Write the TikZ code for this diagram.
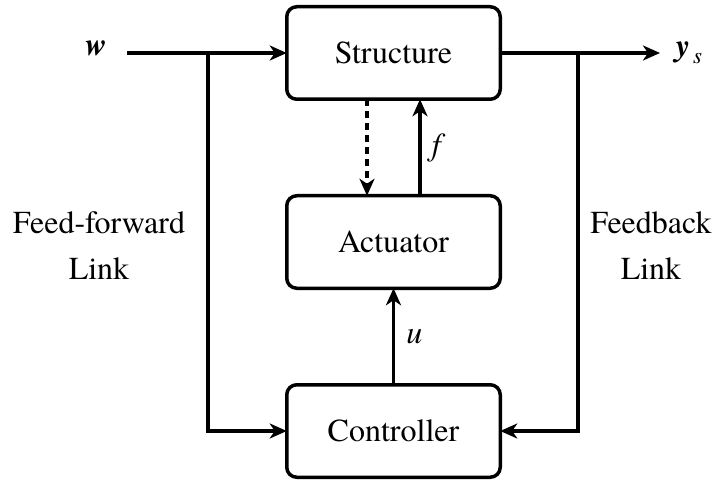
\documentclass[tikz,border=0pt]{standalone}
\usepackage{fontspec}
\setmainfont{texgyretermes}[Extension=.otf,
  UprightFont=*-regular, BoldFont=*-bold,
  ItalicFont=*-italic, BoldItalicFont=*-bolditalic]
\usetikzlibrary{arrows.meta}
\begin{document}
\begin{tikzpicture}[x=1pt,y=-1pt,
  every node/.style={font=\fontsize{32}{46}\selectfont, inner sep=0pt},
  block/.style={draw, line width=3.5pt, rounded corners=10pt,
    minimum width=213.5pt, minimum height=92.5pt, outer sep=0pt},
  wire/.style={line width=3.5pt},
  arr/.style={wire, -{Stealth[length=17pt,width=15pt,inset=5pt]}},
  lbl/.style={align=center}]
\useasboundingbox (0,0) rectangle (717,481);

% blocks
\node[block] (struct) at (393.5,53) {Structure};
\node[block] (act)    at (393.5,242) {Actuator};
\node[block] (ctrl)   at (393.5,431) {Controller};

% input and output signals
\node (w)  at (96,48) {\textbf{\textit{w}}};
\node (ys) at (689,53) {\textbf{\textit{y}}\hspace{3pt}\raisebox{-7pt}{\fontsize{23}{23}\selectfont\textit{s}}};
\coordinate (win)  at (127,53);
\coordinate (yout) at (660,53);
\coordinate (ffb)  at (208,53);
\coordinate (fbb)  at (578,53);

\draw[arr] (win) -- (struct.west);
\draw[arr] (struct.east) -- (yout);

% feed-forward and feedback links
\draw[arr] (ffb) |- (ctrl.west);
\draw[arr] (fbb) |- (ctrl.east);

% structure / actuator coupling
\draw[arr, dash pattern=on 7pt off 5pt] ([xshift=-26.5pt]struct.south) -- ([xshift=-26.5pt]act.north);
\draw[arr] ([xshift=26.5pt]act.north) -- node[right=10pt] (f) {\textit{f}} ([xshift=26.5pt]struct.south);

% control signal
\draw[arr] (ctrl.north) -- node[right=11pt] (u) {\textit{u}} (act.south);

% link labels
\node[lbl] (ffl) at (99,246) {Feed-forward\\Link};
\node[lbl] (fbl) at (651,246) {Feedback\\Link};
\end{tikzpicture}
\end{document}
